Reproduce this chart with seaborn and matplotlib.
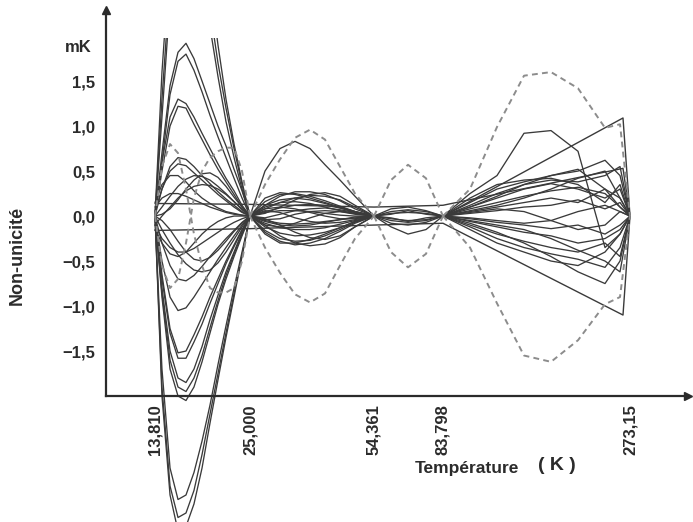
import numpy as np
import matplotlib
matplotlib.use('Agg')
import matplotlib.pyplot as plt
import seaborn as sns
from matplotlib.patches import Rectangle

# =============================================================================
# Data (mK)
# =============================================================================

# fixed points of the scale (K) and where they sit along the axis (arbitrary units)
fixed_temps = [13.810, 25.000, 54.361, 83.798, 273.15]
fixed_labels = ['13,810', '25,000', '54,361', '83,798', '273,15']
axis_pos = [155, 250, 374, 443, 630]

ytick_vals = [-1.5, -1.0, -0.5, 0.0, 0.5, 1.0, 1.5]
ytick_labels = ['\u22121,5', '\u22121,0', '\u22120,5', '0,0', '0,5', '1,0', '1,5']

# sampling temperatures of each interval
temps_left = [13.81, 14.63, 15.58, 16.52, 17.46, 18.40, 19.35, 20.29, 21.23, 22.17, 23.12, 24.06, 25.00]
temps_mid = [25.00, 28.55, 32.10, 35.66, 39.21, 42.76, 46.31, 49.86, 54.361]
temps_third = [54.361, 61.61, 68.87, 76.54, 83.798]
temps_right = [83.798, 111.14, 138.48, 165.82, 193.16, 220.50, 247.84, 263.03, 273.15]

# 13,810 K - 25,000 K
left_curves = [
    [0.0, 0.7, 1.45, 1.82, 1.92, 1.75, 1.5, 1.25, 1.0, 0.78, 0.52, 0.28, 0.0],
    [0.0, 0.6, 1.35, 1.72, 1.8, 1.62, 1.38, 1.12, 0.88, 0.65, 0.42, 0.2, 0.0],
    [0.0, 0.6, 1.1, 1.3, 1.25, 1.1, 0.92, 0.75, 0.58, 0.42, 0.28, 0.12, 0.0],
    [0.0, 0.5, 1.0, 1.22, 1.2, 1.02, 0.85, 0.68, 0.52, 0.38, 0.24, 0.1, 0.0],
    [0.0, 0.3, 0.55, 0.65, 0.63, 0.55, 0.45, 0.36, 0.27, 0.19, 0.12, 0.05, 0.0],
    [0.05, 0.3, 0.5, 0.58, 0.56, 0.48, 0.4, 0.32, 0.24, 0.17, 0.1, 0.04, 0.0],
    [0.0, 0.1, 0.22, 0.33, 0.41, 0.45, 0.44, 0.4, 0.33, 0.25, 0.16, 0.08, 0.0],
    [-0.1, 0.0, 0.1, 0.2, 0.28, 0.33, 0.35, 0.34, 0.3, 0.24, 0.16, 0.07, 0.0],
    [0.1, 0.2, 0.25, 0.25, 0.22, 0.18, 0.14, 0.1, 0.07, 0.04, 0.02, 0.01, 0.0],
    [0.15, 0.35, 0.45, 0.45, 0.38, 0.28, 0.2, 0.14, 0.09, 0.05, 0.03, 0.01, 0.0],
    [0.0, 0.02, 0.08, 0.18, 0.3, 0.4, 0.47, 0.48, 0.43, 0.33, 0.21, 0.1, 0.0],
    [0.0, -0.9, -1.7, -2.0, -2.05, -1.9, -1.62, -1.3, -0.98, -0.7, -0.45, -0.22, 0.0],
    [0.0, -0.85, -1.6, -1.9, -1.95, -1.8, -1.55, -1.24, -0.94, -0.66, -0.42, -0.2, 0.0],
    [0.0, -0.8, -1.5, -1.8, -1.85, -1.7, -1.45, -1.15, -0.88, -0.62, -0.4, -0.18, 0.0],
    [0.0, -0.7, -1.3, -1.58, -1.58, -1.4, -1.2, -0.97, -0.75, -0.53, -0.34, -0.16, 0.0],
    [0.0, -0.65, -1.25, -1.52, -1.5, -1.32, -1.12, -0.9, -0.7, -0.5, -0.32, -0.15, 0.0],
    [0.0, -0.5, -0.9, -1.05, -1.02, -0.9, -0.76, -0.62, -0.48, -0.35, -0.22, -0.1, 0.0],
    [0.0, -0.15, -0.3, -0.43, -0.53, -0.6, -0.62, -0.6, -0.52, -0.4, -0.26, -0.12, 0.0],
    [0.0, -0.3, -0.55, -0.7, -0.72, -0.66, -0.56, -0.45, -0.35, -0.25, -0.16, -0.07, 0.0],
    [-0.1, -0.25, -0.35, -0.4, -0.4, -0.36, -0.3, -0.24, -0.18, -0.12, -0.07, -0.03, 0.0],
    [-0.15, -0.3, -0.42, -0.45, -0.4, -0.3, -0.2, -0.12, -0.06, -0.02, 0.0, 0.0, 0.0],
    [0.0, -0.05, -0.15, -0.28, -0.4, -0.48, -0.5, -0.46, -0.38, -0.28, -0.17, -0.08, 0.0],
    [0.0, 1.3, 2.6, 3.3, 3.5, 3.4, 3.0, 2.3, 1.7, 1.2, 0.75, 0.35, 0.0],
    [0.0, 1.1, 2.4, 3.1, 3.3, 3.1, 2.7, 2.1, 1.55, 1.05, 0.65, 0.3, 0.0],
    [0.0, 1.6, 2.9, 3.5, 3.7, 3.6, 3.2, 2.6, 1.9, 1.3, 0.8, 0.38, 0.0],
    [0.0, -1.7, -2.8, -3.15, -3.1, -2.85, -2.5, -2.1, -1.65, -1.22, -0.8, -0.4, 0.0],
    [0.0, -1.9, -3.0, -3.35, -3.3, -3.05, -2.65, -2.2, -1.75, -1.3, -0.86, -0.43, 0.0],
    [0.0, -2.0, -3.1, -3.5, -3.45, -3.2, -2.8, -2.3, -1.82, -1.35, -0.9, -0.45, 0.0],
]

# 25,000 K - 54,361 K
mid_curves = [
    [0.0, 0.5, 0.75, 0.83, 0.75, 0.57, 0.4, 0.22, 0.0],
    [0.0, 0.12, 0.22, 0.27, 0.27, 0.24, 0.17, 0.08, 0.0],
    [0.0, 0.16, 0.24, 0.25, 0.22, 0.17, 0.11, 0.05, 0.0],
    [0.0, 0.2, 0.26, 0.24, 0.2, 0.15, 0.1, 0.05, 0.0],
    [0.0, 0.03, 0.1, 0.18, 0.24, 0.26, 0.22, 0.12, 0.0],
    [0.0, 0.08, 0.15, 0.2, 0.23, 0.22, 0.18, 0.1, 0.0],
    [0.0, 0.12, 0.18, 0.2, 0.18, 0.14, 0.09, 0.04, 0.0],
    [0.0, 0.1, 0.15, 0.16, 0.14, 0.1, 0.06, 0.03, 0.0],
    [0.0, 0.05, 0.09, 0.12, 0.13, 0.12, 0.09, 0.05, 0.0],
    [0.0, 0.04, 0.06, 0.06, 0.05, 0.03, 0.01, 0.0, 0.0],
    [0.0, 0.08, 0.1, 0.08, 0.04, 0.0, -0.03, -0.03, 0.0],
    [0.0, -0.02, 0.02, 0.06, 0.08, 0.09, 0.07, 0.04, 0.0],
    [0.0, -0.05, -0.08, -0.09, -0.08, -0.06, -0.04, -0.02, 0.0],
    [0.0, -0.06, -0.1, -0.11, -0.1, -0.07, -0.04, -0.01, 0.0],
    [0.0, -0.1, -0.12, -0.08, -0.02, 0.03, 0.05, 0.03, 0.0],
    [0.0, -0.08, -0.13, -0.15, -0.15, -0.13, -0.09, -0.05, 0.0],
    [0.0, -0.12, -0.19, -0.22, -0.21, -0.18, -0.13, -0.06, 0.0],
    [0.0, -0.16, -0.25, -0.28, -0.27, -0.22, -0.15, -0.07, 0.0],
    [0.0, -0.03, -0.1, -0.18, -0.24, -0.26, -0.22, -0.12, 0.0],
    [0.0, -0.1, -0.22, -0.3, -0.33, -0.31, -0.24, -0.12, 0.0],
    [0.0, -0.18, -0.28, -0.32, -0.3, -0.25, -0.17, -0.08, 0.0],
    [0.0, -0.2, -0.3, -0.3, -0.26, -0.2, -0.13, -0.06, 0.0],
    [0.0, 0.06, 0.04, -0.02, -0.06, -0.08, -0.07, -0.04, 0.0],
    [0.0, -0.04, -0.03, 0.02, 0.05, 0.06, 0.05, 0.02, 0.0],
]

# 54,361 K - 83,798 K
third_curves = [
    [0.0, 0.05, 0.07, 0.05, 0.0],
    [0.0, 0.08, 0.1, 0.06, 0.0],
    [0.0, 0.03, 0.04, 0.03, 0.0],
    [0.0, -0.03, -0.05, -0.04, 0.0],
    [0.0, -0.05, -0.07, -0.05, 0.0],
    [0.0, -0.08, -0.1, -0.07, 0.0],
    [0.0, -0.12, -0.2, -0.15, 0.0],
    [0.0, 0.02, 0.06, 0.02, 0.0],
    [0.0, -0.02, -0.06, -0.02, 0.0],
]

# 83,798 K - 273,15 K
right_curves = [
    [0.0, 0.25, 0.45, 0.92, 0.95, 0.72, -0.35, -0.2, 0.0],
    [0.0, 0.15, 0.3, 0.38, 0.45, 0.5, 0.62, 0.45, 0.0],
    [0.0, 0.12, 0.25, 0.35, 0.4, 0.38, 0.45, 0.55, 0.0],
    [0.0, 0.1, 0.2, 0.3, 0.36, 0.3, 0.2, 0.3, 0.0],
    [0.0, 0.08, 0.15, 0.22, 0.28, 0.32, 0.25, 0.1, 0.0],
    [0.0, 0.06, 0.12, 0.2, 0.3, 0.42, 0.5, 0.2, 0.0],
    [0.0, 0.05, 0.1, 0.15, 0.2, 0.15, 0.3, 0.2, 0.0],
    [0.0, 0.03, 0.06, 0.1, 0.12, 0.18, 0.08, 0.15, 0.0],
    [0.0, 0.04, 0.08, 0.05, -0.05, -0.15, -0.1, 0.05, 0.0],
    [0.0, -0.02, -0.05, -0.08, -0.05, 0.05, 0.12, 0.05, 0.0],
    [0.0, -0.03, -0.07, -0.1, -0.14, -0.1, -0.2, -0.1, 0.0],
    [0.0, -0.06, -0.12, -0.18, -0.22, -0.3, -0.25, -0.15, 0.0],
    [0.0, -0.1, -0.2, -0.28, -0.35, -0.4, -0.3, -0.45, 0.0],
    [0.0, -0.12, -0.25, -0.35, -0.42, -0.48, -0.57, -0.35, 0.0],
    [0.0, -0.15, -0.3, -0.4, -0.5, -0.55, -0.4, -0.2, 0.0],
    [0.0, -0.05, -0.1, -0.15, -0.25, -0.38, -0.5, -0.62, 0.0],
    [0.0, -0.08, -0.18, -0.3, -0.45, -0.62, -0.75, -0.5, 0.0],
    [0.0, 0.2, 0.35, 0.4, 0.42, 0.35, 0.15, 0.35, 0.0],
    [0.0, 0.1, 0.22, 0.35, 0.45, 0.52, 0.3, 0.1, 0.0],
]

# long straight lines
line_temps = [13.81, 25.0, 54.361, 83.798, 266.06, 273.15]
line_a_vals = [0.14, 0.13, 0.1, 0.12, 0.53, 0.0]
line_b_vals = [-0.16, -0.14, -0.1, -0.08, -1.1, 0.0]
line_c_temps = [83.798, 266.06, 273.15]
line_c_vals = [0.0, 1.09, 0.0]

# dashed envelopes
dash_a_left = [0.0, 0.55, 0.8, 0.7, 0.3, -0.2, -0.55, -0.8, -0.85, -0.85, -0.8, -0.5, 0.0]
dash_b_left = [0.0, -0.55, -0.8, -0.7, -0.3, 0.2, 0.5, 0.65, 0.72, 0.76, 0.76, 0.5, 0.0]
dash_a_mid = [0.0, 0.35, 0.63, 0.87, 0.96, 0.85, 0.55, 0.25, 0.0]
dash_b_mid = [0.0, -0.35, -0.63, -0.87, -0.96, -0.86, -0.55, -0.25, 0.0]
dash_a_third = [0.0, 0.4, 0.57, 0.42, 0.0]
dash_b_third = [0.0, -0.4, -0.57, -0.42, 0.0]
dash_a_right = [0.0, 0.3, 0.99, 1.56, 1.6, 1.42, 0.98, 1.02, 0.0]
dash_b_right = [0.0, -0.35, -0.97, -1.55, -1.62, -1.38, -0.98, -0.9, 0.0]

# =============================================================================
# Scale: piecewise linear between the fixed points
# =============================================================================
slope_lo = (axis_pos[1] - axis_pos[0]) / (fixed_temps[1] - fixed_temps[0])
slope_hi = (axis_pos[-1] - axis_pos[-2]) / (fixed_temps[-1] - fixed_temps[-2])


def temp_to_pos(t):
    t = np.asarray(t, dtype=float)
    out = np.interp(t, fixed_temps, axis_pos)
    out = np.where(t < fixed_temps[0], axis_pos[0] + (t - fixed_temps[0]) * slope_lo, out)
    out = np.where(t > fixed_temps[-1], axis_pos[-1] + (t - fixed_temps[-1]) * slope_hi, out)
    return out


def pos_to_temp(p):
    p = np.asarray(p, dtype=float)
    out = np.interp(p, axis_pos, fixed_temps)
    out = np.where(p < axis_pos[0], fixed_temps[0] + (p - axis_pos[0]) / slope_lo, out)
    out = np.where(p > axis_pos[-1], fixed_temps[-1] + (p - axis_pos[-1]) / slope_hi, out)
    return out


# =============================================================================
# Plot
# =============================================================================
sns.set_theme(style='white')
plt.rcParams['font.family'] = ['Liberation Sans', 'DejaVu Sans']
plt.rcParams['font.weight'] = 'bold'

ink = '#2b2b2b'
curve_color = '#3a3a3a'
dash_color = '#8c8c8c'

fig = plt.figure(figsize=(6.93, 5.22), dpi=100)
ax = fig.add_axes([106 / 693, 0.0, 582 / 693, 512 / 522])
ax.set_xscale('function', functions=(temp_to_pos, pos_to_temp))

segments = [(temps_left, left_curves), (temps_mid, mid_curves),
            (temps_third, third_curves), (temps_right, right_curves)]
for temps, curves in segments:
    for vals in curves:
        sns.lineplot(x=temps, y=vals, ax=ax, color=curve_color, linewidth=0.95,
                     estimator=None, sort=False)

for temps, vals in [(line_temps, line_a_vals), (line_temps, line_b_vals),
                    (line_c_temps, line_c_vals)]:
    sns.lineplot(x=temps, y=vals, ax=ax, color=curve_color, linewidth=1.0,
                 estimator=None, sort=False)

dashed = [(temps_left, dash_a_left), (temps_left, dash_b_left),
          (temps_mid, dash_a_mid), (temps_mid, dash_b_mid),
          (temps_third, dash_a_third), (temps_third, dash_b_third),
          (temps_right, dash_a_right), (temps_right, dash_b_right)]
for temps, vals in dashed:
    sns.lineplot(x=temps, y=vals, ax=ax, color=dash_color, linewidth=1.4,
                 linestyle=(0, (3, 2.2)), estimator=None, sort=False)

# curves are cut just under 2 mK, as on the original
clip_rect = Rectangle((0, 0), 1, (1.98 + 3.4) / 5.69, transform=ax.transAxes)
for line in ax.lines:
    line.set_clip_path(clip_rect)

ax.set_xlim(float(pos_to_temp(106)), float(pos_to_temp(688)))
ax.set_ylim(-3.4, 2.29)

# axes with arrows
ax.spines['top'].set_visible(False)
ax.spines['right'].set_visible(False)
ax.spines['left'].set_bounds(-2.0, 2.29)
ax.spines['bottom'].set_position(('data', -2.0))
for side in ['left', 'bottom']:
    ax.spines[side].set_color(ink)
    ax.spines[side].set_linewidth(1.6)
ax.plot(1, -2.0, marker='>', color=ink, markersize=6, transform=ax.get_yaxis_transform(), clip_on=False)
ax.plot(0, 1, marker='^', color=ink, markersize=6, transform=ax.transAxes, clip_on=False)

ax.set_xticks(fixed_temps, fixed_labels)
ax.set_yticks(ytick_vals, ytick_labels)
ax.minorticks_off()
ax.tick_params(axis='x', direction='in', length=13, width=1.6, color=ink, pad=6,
               labelsize=12, labelcolor=ink, labelrotation=90)
ax.tick_params(axis='y', direction='in', length=9, width=1.6, color=ink, pad=8,
               labelsize=12, labelcolor=ink)
ax.set_xlabel('')
ax.set_ylabel('')

ax.text(-0.025, 1.87, 'mK', transform=ax.get_yaxis_transform(), ha='right', va='center',
        fontsize=12, color=ink)

fig.text(17 / 693, 1 - 255 / 522, 'Non-unicité', rotation=90, ha='center', va='center',
         fontsize=13, color=ink)
fig.text(415 / 693, 1 - 468 / 522, 'Température', ha='left', va='center',
         fontsize=12.5, color=ink)
fig.text(538 / 693, 1 - 466 / 522, '( K )', ha='left', va='center',
         fontsize=14, color=ink)

plt.savefig('out.png', dpi=100)
